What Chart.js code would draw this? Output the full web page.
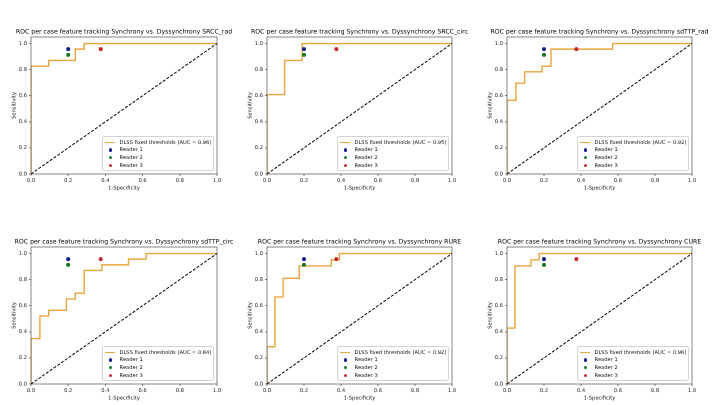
<!DOCTYPE html>
<html>
<head>
<meta charset="utf-8">
<script src="https://cdn.jsdelivr.net/npm/chart.js@4.4.1/dist/chart.umd.min.js"></script>
<style>
    html, body { margin: 0; padding: 0; background: #fff; }
    body { width: 720px; height: 405px; position: relative; overflow: hidden; font-family: 'DejaVu Sans', sans-serif; }
    .panel { position: absolute; }
    .roc-legend {
        position: absolute;
        background: rgba(255, 255, 255, 0.8);
        border: 0.6px solid #d4d4d4;
        border-radius: 2px;
        padding: 1.2px 2px;
        font-size: 5.17px;
        color: #111;
        white-space: nowrap;
        line-height: 1;
    }
    .roc-legend .item { display: flex; align-items: center; height: 7.76px; }
    .roc-legend .handle { position: relative; width: 10.3px; height: 7.76px; margin-right: 4.1px; flex: none; }
    .roc-legend .handle .line { position: absolute; left: 0; right: 0; top: 3.3px; height: 1.3px; }
    .roc-legend .handle .dot { position: absolute; left: 3.4px; top: 2.1px; width: 3.6px; height: 3.6px; border-radius: 50%; }
</style>
</head>
<body>
<script>
(function () {
    const featureNames = ['SRCC_rad', 'SRCC_circ', 'sdTTP_rad', 'sdTTP_circ', 'RURE', 'CURE'];
    const aucValues = [0.96, 0.95, 0.92, 0.84, 0.92, 0.96];

    // ROC corner points
    const fprSrccRad = [0, 0, 0.095, 0.095, 0.238, 0.238, 0.286, 0.286, 1];
    const tprSrccRad = [0, 0.826, 0.826, 0.870, 0.870, 0.957, 0.957, 1, 1];
    const fprSrccCirc = [0, 0, 0.095, 0.095, 0.190, 0.190, 1];
    const tprSrccCirc = [0, 0.609, 0.609, 0.870, 0.870, 1, 1];
    const fprSdttpRad = [0, 0, 0.048, 0.048, 0.095, 0.095, 0.190, 0.190, 0.238, 0.238, 0.571, 0.571, 1];
    const tprSdttpRad = [0, 0.565, 0.565, 0.696, 0.696, 0.783, 0.783, 0.826, 0.826, 0.957, 0.957, 1, 1];
    const fprSdttpCirc = [0, 0, 0.048, 0.048, 0.095, 0.095, 0.190, 0.190, 0.238, 0.238, 0.286, 0.286, 0.381, 0.381, 0.524, 0.524, 0.619, 0.619, 1];
    const tprSdttpCirc = [0, 0.348, 0.348, 0.522, 0.522, 0.565, 0.565, 0.652, 0.652, 0.696, 0.696, 0.870, 0.870, 0.913, 0.913, 0.957, 0.957, 1, 1];
    const fprRure = [0, 0, 0.043, 0.043, 0.087, 0.087, 0.174, 0.174, 0.348, 0.348, 0.391, 0.391, 1];
    const tprRure = [0, 0.286, 0.286, 0.667, 0.667, 0.810, 0.810, 0.905, 0.905, 0.952, 0.952, 1, 1];
    const fprCure = [0, 0, 0.043, 0.043, 0.130, 0.130, 0.174, 0.174, 1];
    const tprCure = [0, 0.429, 0.429, 0.905, 0.905, 0.952, 0.952, 1, 1];

    const fprByPanel = [fprSrccRad, fprSrccCirc, fprSdttpRad, fprSdttpCirc, fprRure, fprCure];
    const tprByPanel = [tprSrccRad, tprSrccCirc, tprSdttpRad, tprSdttpCirc, tprRure, tprCure];

    const readerNames = ['Reader 1', 'Reader 2', 'Reader 3'];
    const readerFpr = [0.2, 0.2, 0.375];
    const readerTpr = [0.957, 0.913, 0.957];
    const readerColors = ['#0c1f8f', '#167a22', '#c4262e'];

    const chanceX = [0, 1];
    const chanceY = [0, 1];
    const tickValues = [0, 0.2, 0.4, 0.6, 0.8, 1.0];

    const rocColor = '#eda33b';
    const font = "'DejaVu Sans', sans-serif";

    // plot-box placement (px) for the 2x3 grid
    const colLeft = [31, 267, 507];
    const colRight = [217, 452, 692];
    const rowTop = [37, 247];
    const rowBottom = [174, 384];
    const SIDE = 28;        // y-axis width on the left, same blank strip on the right so the title centres on the plot
    const TITLE_H = 12;
    const AXIS_BOTTOM = 20;

    const frameOutline = {
        id: 'frameOutline',
        afterDatasetsDraw(chart) {
            const { ctx, chartArea: a } = chart;
            ctx.save();
            ctx.strokeStyle = '#333';
            ctx.lineWidth = 0.6;
            ctx.strokeRect(a.left, a.top, a.right - a.left, a.bottom - a.top);
            ctx.restore();
        },
    };

    const toPoints = (xs, ys) => xs.map((x, i) => ({ x, y: ys[i] }));

    const tickFont = { family: font, size: 5.17, lineHeight: 1.2 };

    featureNames.forEach((name, i) => {
        const col = i % 3;
        const row = Math.floor(i / 3);
        const plotW = colRight[col] - colLeft[col];
        const plotH = rowBottom[row] - rowTop[row];
        const wrapW = plotW + SIDE * 2;
        const wrapH = plotH + TITLE_H + AXIS_BOTTOM;

        const wrap = document.createElement('div');
        wrap.className = 'panel';
        wrap.style.left = (colLeft[col] - SIDE) + 'px';
        wrap.style.top = (rowTop[row] - TITLE_H) + 'px';
        wrap.style.width = wrapW + 'px';
        wrap.style.height = wrapH + 'px';
        const canvas = document.createElement('canvas');
        wrap.appendChild(canvas);
        document.body.appendChild(wrap);

        const datasets = [
            {
                label: `DLSS fixed thresholds (AUC = ${aucValues[i].toFixed(2)})`,
                data: toPoints(fprByPanel[i], tprByPanel[i]),
                showLine: true,
                borderColor: rocColor,
                backgroundColor: rocColor,
                borderWidth: 1.4,
                pointRadius: 0,
                tension: 0,
                order: 3,
                legendKind: 'line',
            },
            {
                data: toPoints(chanceX, chanceY),
                showLine: true,
                borderColor: '#000',
                borderWidth: 1,
                borderDash: [3, 1.6],
                pointRadius: 0,
                order: 2,
            },
        ];
        readerNames.forEach((reader, r) => {
            datasets.push({
                label: reader,
                data: [{ x: readerFpr[r], y: readerTpr[r] }],
                backgroundColor: readerColors[r],
                borderWidth: 0,
                pointRadius: 2,
                order: 1,
                legendKind: 'dot',
            });
        });

        const chart = new Chart(canvas, {
            type: 'scatter',
            data: { datasets },
            options: {
                responsive: true,
                maintainAspectRatio: false,
                animation: false,
                devicePixelRatio: 2,
                layout: { padding: 0 },
                plugins: {
                    legend: { display: false },
                    tooltip: { enabled: false },
                    title: {
                        display: true,
                        text: 'ROC per case feature tracking Synchrony vs. Dyssynchrony ' + name,
                        fullSize: true,
                        color: '#000',
                        font: { family: font, size: 6.2, weight: 'normal', lineHeight: 1 },
                        padding: { top: 3.9, bottom: 1.9 },
                    },
                },
                scales: {
                    x: {
                        type: 'linear',
                        min: 0,
                        max: 1,
                        afterBuildTicks: (scale) => { scale.ticks = tickValues.map((v) => ({ value: v })); },
                        afterFit: (scale) => { scale.height = AXIS_BOTTOM; },
                        ticks: {
                            callback: (v) => Number(v).toFixed(1),
                            font: tickFont,
                            color: '#222',
                            padding: 1.6,
                            maxRotation: 0,
                            autoSkip: false,
                        },
                        grid: { drawOnChartArea: false, tickLength: 2, tickColor: '#333', lineWidth: 0.6 },
                        border: { display: false },
                        title: {
                            display: true,
                            text: '1-Specificity',
                            color: '#111',
                            font: tickFont,
                            padding: { top: 0, bottom: 2.9 },
                        },
                    },
                    y: {
                        type: 'linear',
                        min: 0,
                        max: 1.05,
                        afterBuildTicks: (scale) => { scale.ticks = tickValues.map((v) => ({ value: v })); },
                        afterFit: (scale) => { scale.width = SIDE; },
                        ticks: {
                            callback: (v) => Number(v).toFixed(1),
                            font: tickFont,
                            color: '#222',
                            padding: 2,
                            autoSkip: false,
                        },
                        grid: { drawOnChartArea: false, tickLength: 2, tickColor: '#333', lineWidth: 0.6 },
                        border: { display: false },
                        title: {
                            display: true,
                            text: 'Sensitivity',
                            color: '#111',
                            font: tickFont,
                            padding: { top: 8, bottom: 0 },
                        },
                    },
                    // empty strip on the right, mirrors the y-axis width
                    spacer: {
                        type: 'linear',
                        position: 'right',
                        afterFit: (scale) => { scale.width = SIDE; },
                        ticks: { display: false },
                        grid: { display: false },
                        border: { display: false },
                    },
                },
            },
            plugins: [frameOutline],
        });

        // legend box in the lower right corner of the plot, like matplotlib's loc="lower right"
        const area = chart.chartArea;
        const legend = document.createElement('div');
        legend.className = 'roc-legend';
        legend.style.right = (chart.width - area.right + 2.6) + 'px';
        legend.style.bottom = (chart.height - area.bottom + 2.6) + 'px';
        chart.data.datasets.forEach((ds) => {
            if (!ds.label) {
                return;
            }
            const item = document.createElement('div');
            item.className = 'item';
            const handle = document.createElement('span');
            handle.className = 'handle';
            const mark = document.createElement('span');
            mark.className = ds.legendKind === 'line' ? 'line' : 'dot';
            mark.style.background = ds.legendKind === 'line' ? ds.borderColor : ds.backgroundColor;
            handle.appendChild(mark);
            const text = document.createElement('span');
            text.textContent = ds.label;
            item.appendChild(handle);
            item.appendChild(text);
            legend.appendChild(item);
        });
        wrap.appendChild(legend);
    });
})();
</script>
</body>
</html>
